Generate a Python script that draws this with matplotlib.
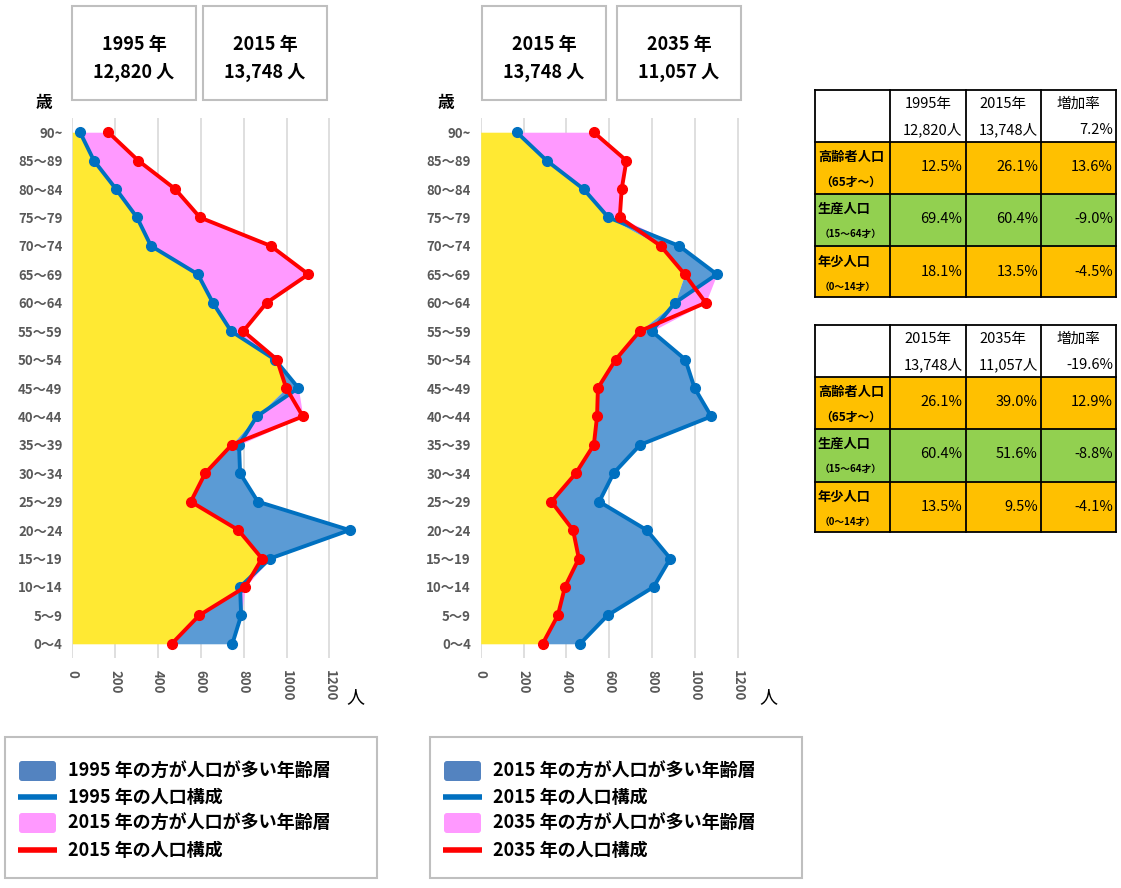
import numpy as np
import matplotlib.pyplot as plt
from matplotlib.patches import Rectangle, FancyBboxPatch

plt.rcParams['font.family'] = ['Noto Sans CJK JP', 'DejaVu Sans']

# age groups, bottom to top
ages = ["0～4", "5～9", "10～14", "15～19", "20～24", "25～29", "30～34",
        "35～39", "40～44", "45～49", "50～54", "55～59", "60～64", "65～69",
        "70～74", "75～79", "80～84", "85～89", "90~"]

# population per age group
pop_1995 = [747, 788, 783, 923, 1294, 866, 783, 778, 861, 1055,
            946, 741, 656, 586, 367, 302, 204, 101, 36]
pop_2015 = [464, 592, 807, 885, 775, 553, 620, 744, 1076, 998,
            955, 798, 907, 1102, 926, 596, 480, 308, 168]
pop_2035 = [289, 360, 393, 458, 431, 330, 444, 528, 543, 547,
            630, 742, 1050, 952, 840, 649, 658, 680, 527]

x_ticks = [0, 200, 400, 600, 800, 1000, 1200]

# header boxes above each chart
head_left = [("1995 年", "12,820 人"), ("2015 年", "13,748 人")]
head_right = [("2015 年", "13,748 人"), ("2035 年", "11,057 人")]

legend_left = ["1995 年の方が人口が多い年齢層", "1995 年の人口構成",
               "2015 年の方が人口が多い年齢層", "2015 年の人口構成"]
legend_right = ["2015 年の方が人口が多い年齢層", "2015 年の人口構成",
                "2035 年の方が人口が多い年齢層", "2035 年の人口構成"]

# summary tables
group_names = [("高齢者人口", "（65才～）"), ("生産人口", "（15～64才）"), ("年少人口", "（0～14才）")]
table1_head = [("1995年", "12,820人"), ("2015年", "13,748人"), ("増加率", "7.2%")]
table1_vals = [["12.5%", "26.1%", "13.6%"],
               ["69.4%", "60.4%", "-9.0%"],
               ["18.1%", "13.5%", "-4.5%"]]
table2_head = [("2015年", "13,748人"), ("2035年", "11,057人"), ("増加率", "-19.6%")]
table2_vals = [["26.1%", "39.0%", "12.9%"],
               ["60.4%", "51.6%", "-8.8%"],
               ["13.5%", "9.5%", "-4.1%"]]

YELLOW = "#ffe933"
BLUE_FILL = "#5b9bd5"
PINK = "#ff99ff"
BLUE_LINE = "#0070c0"
RED = "#ff0000"
ORANGE = "#ffc000"
GREEN = "#92d050"
W, H = 1121, 888

fig = plt.figure(figsize=(W / 100, H / 100), dpi=100)


def draw_chart(ax, old, new):
    old = np.array(old)
    new = np.array(new)
    y = np.arange(len(ages))
    # stacked areas: common part, then the surplus of either year
    low = np.minimum(old, new)
    more_old = np.clip(old - new, 0, None)
    more_new = np.clip(new - old, 0, None)
    ax.fill_betweenx(y, 0, low, color=YELLOW, lw=0, zorder=1)
    ax.fill_betweenx(y, low, low + more_old, color=BLUE_FILL, lw=0, zorder=1)
    ax.fill_betweenx(y, low + more_old, low + more_old + more_new, color=PINK, lw=0, zorder=1)
    ax.plot(old, y, color=BLUE_LINE, lw=2.8, marker='o', ms=7, zorder=3, clip_on=False)
    ax.plot(new, y, color=RED, lw=2.8, marker='o', ms=7, zorder=4, clip_on=False)
    ax.set_xlim(0, 1400)
    ax.set_ylim(-0.5, len(ages) - 0.5)
    ax.set_xticks(x_ticks)
    ax.set_xticklabels([str(v) for v in x_ticks], rotation=-90)
    ax.set_yticks(y)
    ax.set_yticklabels(ages)
    ax.grid(axis='x', color='#d9d9d9', lw=1.2)
    ax.set_axisbelow(True)
    for s in ax.spines.values():
        s.set_visible(False)
    ax.tick_params(length=0, colors='#595959', labelsize=9.5)
    ax.tick_params(axis='y', pad=7)
    ax.tick_params(axis='x', pad=9)
    for lab in ax.get_xticklabels() + ax.get_yticklabels():
        lab.set_fontweight('bold')
    ax.patch.set_alpha(0)


ax1 = fig.add_axes([72.3 / W, 1 - 658 / H, 300 / W, 540 / H])
draw_chart(ax1, pop_1995, pop_2015)
ax2 = fig.add_axes([480.7 / W, 1 - 658 / H, 300 / W, 540 / H])
draw_chart(ax2, pop_2015, pop_2035)

# overlay in pixel coordinates for boxes, legends and tables
ov = fig.add_axes([0, 0, 1, 1])
ov.set_xlim(0, W)
ov.set_ylim(H, 0)
ov.axis('off')
ov.patch.set_alpha(0)

# header boxes
for x0, (t1, t2) in zip([72, 203], head_left):
    ov.add_patch(Rectangle((x0, 6), 124, 94, fill=False, ec='#bfbfbf', lw=1.5))
    ov.text(x0 + 62, 45, t1, ha='center', va='center', fontsize=13, fontweight='bold')
    ov.text(x0 + 62, 72, t2, ha='center', va='center', fontsize=13, fontweight='bold')
for x0, (t1, t2) in zip([482, 617], head_right):
    ov.add_patch(Rectangle((x0, 6), 124, 94, fill=False, ec='#bfbfbf', lw=1.5))
    ov.text(x0 + 62, 45, t1, ha='center', va='center', fontsize=13, fontweight='bold')
    ov.text(x0 + 62, 72, t2, ha='center', va='center', fontsize=13, fontweight='bold')

# axis captions
for xs, xp in [(44, 355), (446, 768)]:
    ov.text(xs, 103, "歳", ha='center', va='center', fontsize=12, fontweight='bold')
    ov.text(xp, 697, "人", ha='center', va='center', fontsize=13)

# legends
rows_y = [771, 797, 823, 850]
for bx, labels in [(5, legend_left), (430, legend_right)]:
    ov.add_patch(Rectangle((bx, 737), 372, 141, fill=False, ec='#bfbfbf', lw=1.5))
    kinds = [BLUE_FILL, BLUE_LINE, PINK, RED]
    for i, (yy, lab) in enumerate(zip(rows_y, labels)):
        px = bx + 13
        if i % 2 == 0:
            col = "#5383c0" if i == 0 else PINK
            ov.add_patch(FancyBboxPatch((px + 1, yy - 10), 37, 20,
                                        boxstyle="round,pad=0,rounding_size=3",
                                        fc=col, ec='none'))
        else:
            ov.plot([px, px + 39], [yy, yy], color=kinds[i], lw=4, solid_capstyle='butt')
        ov.text(px + 50, yy, lab, ha='left', va='center', fontsize=13, fontweight='bold')


def draw_table(top, heads, vals):
    cols = [815, 890, 965.5, 1041, 1116]
    rows = [top, top + 52, top + 104, top + 156.5, top + 207]
    fills = [ORANGE, GREEN, ORANGE]
    for r in range(3):
        ov.add_patch(Rectangle((cols[0], rows[r + 1]), cols[-1] - cols[0],
                               rows[r + 2] - rows[r + 1], fc=fills[r], ec='none'))
    for c in cols:
        ov.plot([c, c], [rows[0], rows[-1]], color='black', lw=1.3)
    for r in rows:
        ov.plot([cols[0], cols[-1]], [r, r], color='black', lw=1.3)
    for j, (t1, t2) in enumerate(heads):
        cx = (cols[j + 1] + cols[j + 2]) / 2
        ov.text(cx, top + 14, t1, ha='center', va='center', fontsize=10.5)
        ov.text(cols[j + 2] - 3, top + 40, t2, ha='right', va='center', fontsize=10.5)
    sub_sizes = [8.5, 7, 7]
    for i, (name, sub) in enumerate(group_names):
        r0 = rows[i + 1]
        ov.text(cols[0] + 3, r0 + 15, name, ha='left', va='center', fontsize=9.5, fontweight='bold')
        ov.text(cols[0] + 5, r0 + 40, sub, ha='left', va='center',
                fontsize=sub_sizes[i], fontweight='bold')
        for j, v in enumerate(vals[i]):
            ov.text(cols[j + 2] - 3, r0 + 25, v, ha='right', va='center', fontsize=10.5)


draw_table(90, table1_head, table1_vals)
draw_table(325, table2_head, table2_vals)

fig.savefig("out.png", dpi=100, facecolor='white')
